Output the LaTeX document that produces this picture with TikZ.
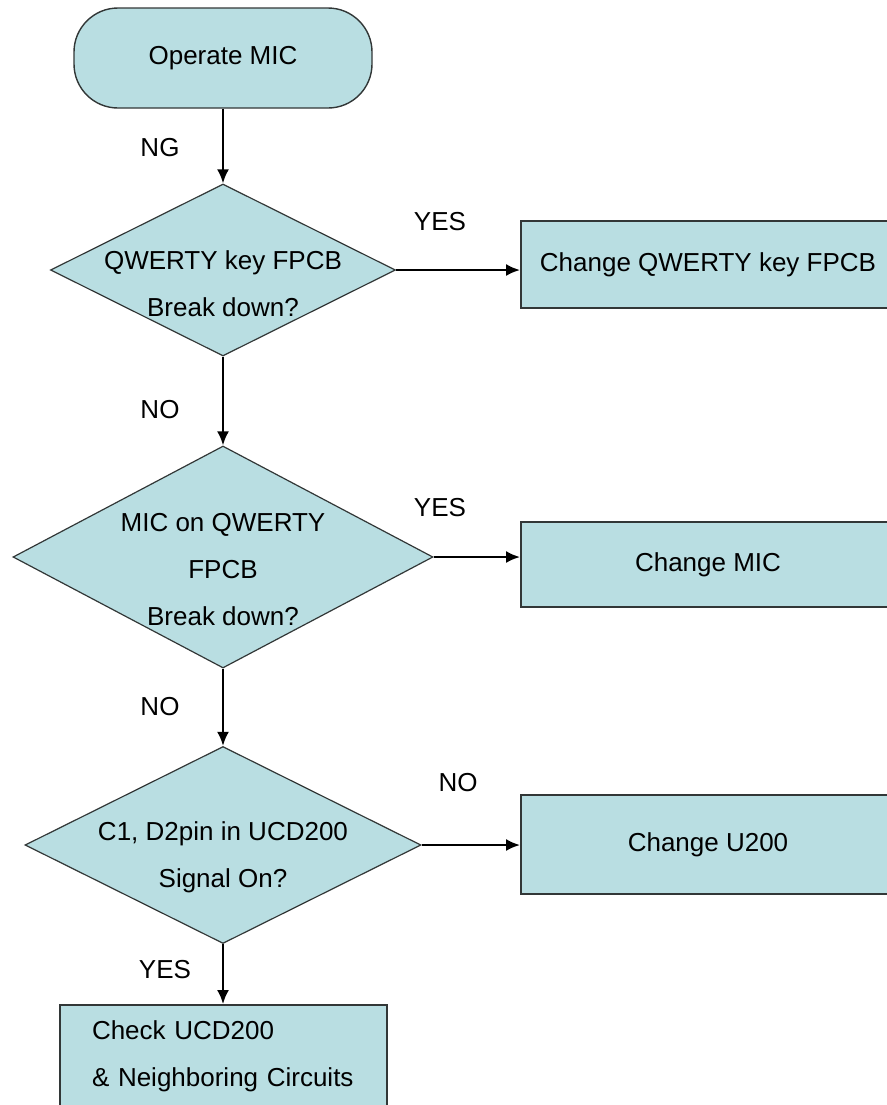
\documentclass[tikz,border=0pt]{standalone}
\usepackage{fontspec}
\setmainfont{Liberation Sans}
\usepackage{tikz}
\usetikzlibrary{shapes.geometric}
\usetikzlibrary{arrows.meta}

\definecolor{boxfill}{RGB}{185,222,226}
\definecolor{boxline}{RGB}{50,55,55}

\begin{document}
\begin{tikzpicture}[
    x=0.5pt, y=-0.5pt,
    every node/.style={font=\fontsize{13}{23.5}\selectfont, inner sep=0pt},
    terminal/.style={rectangle, rounded corners=22pt, draw=boxline, fill=boxfill, line width=0.7pt},
    decision/.style={diamond, draw=boxline, fill=boxfill, line width=0.6pt},
    process/.style={rectangle, draw=boxline, fill=boxfill, line width=0.9pt},
    tag/.style={align=center},
    arrow/.style={line width=1.2pt, -{Latex[length=7pt, width=6pt]}}
]

\useasboundingbox (0,0) rectangle (887,1105);
\clip (0,0) rectangle (887,1105);

% Define shapes
\node[terminal, minimum width=149pt, minimum height=50pt] (start) at (223,58) {Operate MIC};

\node[decision, minimum width=172.5pt, minimum height=86pt] (q1) at (223,270) {};
\node[tag] (q1-text) at (223,283.5) {QWERTY key FPCB\\Break down?};

\node[decision, minimum width=210pt, minimum height=111pt] (q2) at (223,557) {};
\node[tag] (q2-text) at (223,570) {MIC on QWERTY\\FPCB\\Break down?};

\node[decision, minimum width=198pt, minimum height=98.5pt] (q3) at (223,845) {};
\node[tag] (q3-text) at (223,857.5) {C1, D2pin in UCD200\\Signal On?};

\node[process, minimum width=187pt, minimum height=43.5pt] (fix1) at (708,264.5) {Change QWERTY key FPCB};
\node[process, minimum width=187pt, minimum height=42.5pt] (fix2) at (708,564.5) {Change MIC};
\node[process, minimum width=187pt, minimum height=49.5pt] (fix3) at (708,844.5) {Change U200};

\node[process, align=left, text width=131.5pt, inner xsep=16pt, minimum height=51.5pt] (check) at (223.5,1056.5) {Check UCD200\\\& Neighboring Circuits};

% Define labels
\node (ng) at (160,148) {NG};
\node (yes1) at (440,222) {YES};
\node (no1) at (160,410) {NO};
\node (yes2) at (440,508) {YES};
\node (no2) at (160,707) {NO};
\node (no3) at (458,783) {NO};
\node (yes3) at (165,970) {YES};

% Define connectors
\draw[arrow] (start) -- (q1);
\draw[arrow] (q1) -- (q2);
\draw[arrow] (q2) -- (q3);
\draw[arrow] (q3.south) -- (check.north -| q3.south);
\draw[arrow] (q1.east) -- (q1.east -| fix1.west);
\draw[arrow] (q2.east) -- (q2.east -| fix2.west);
\draw[arrow] (q3.east) -- (q3.east -| fix3.west);

\end{tikzpicture}
\end{document}
